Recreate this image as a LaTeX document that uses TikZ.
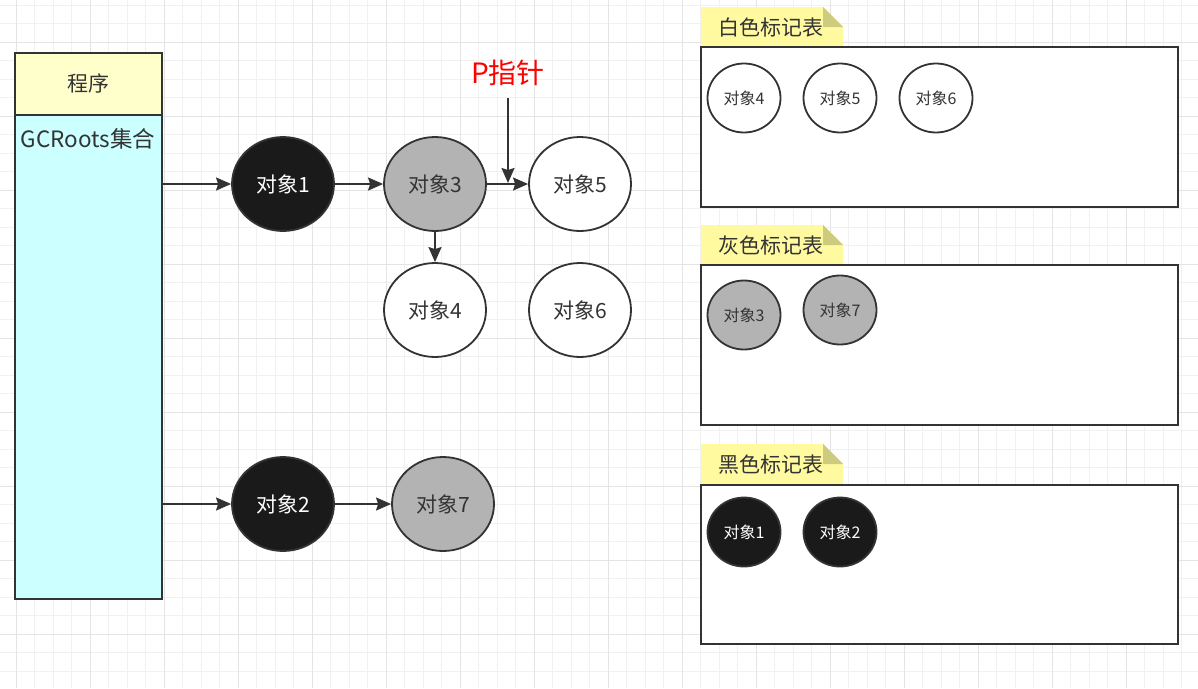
\documentclass[tikz,border=0pt]{standalone}
\usepackage{fontspec}
\setmainfont{Noto Sans CJK SC}
\usetikzlibrary{arrows.meta,shapes.geometric}
\definecolor{lineC}{HTML}{333333}
\definecolor{blackF}{HTML}{1A1A1A}
\definecolor{grayF}{HTML}{B3B3B3}
\definecolor{hdrF}{HTML}{FFFFCC}
\definecolor{bodyF}{HTML}{CCFFFF}
\definecolor{tabF}{HTML}{FFFAA0}
\definecolor{foldF}{HTML}{CDCB7E}
\definecolor{gridMinor}{HTML}{F1F1F1}
\definecolor{gridMajor}{HTML}{E4E4E4}
\definecolor{txtC}{HTML}{333333}
\tikzset{
  obj/.style={ellipse, draw=lineC, line width=1.8pt, minimum width=102pt, minimum height=94pt, inner sep=0pt, font=\fontsize{21}{25}\selectfont, text=txtC},
  sobj/.style={ellipse, draw=lineC, line width=1.8pt, minimum width=73pt, minimum height=69pt, inner sep=0pt, font=\fontsize{16}{20}\selectfont, text=txtC},
  blk/.style={fill=blackF, text=white},
  gry/.style={fill=grayF},
  wht/.style={fill=white},
  conn/.style={draw=lineC, line width=1.9pt, -{Stealth[length=15pt,width=13pt,inset=2pt]}},
  panel/.style={draw=lineC, line width=1.8pt, fill=white},
  tablabel/.style={font=\fontsize{21}{25}\selectfont, text=txtC},
}
\begin{document}
\begin{tikzpicture}[x=1pt,y=-1pt]
\useasboundingbox (0,0) rectangle (1198,688);
\fill[white] (0,0) rectangle (1198,688);
% grid
\foreach \k in {-1,...,64} {\pgfmathsetmacro\gx{16+18.5*\k}\draw[gridMinor,line width=1pt] (\gx,0) -- (\gx,688);}
\foreach \k in {-2,...,35} {\pgfmathsetmacro\gy{42+18.5*\k}\draw[gridMinor,line width=1pt] (0,\gy) -- (1198,\gy);}
\foreach \k in {0,...,16} {\pgfmathsetmacro\gx{16+74*\k}\draw[gridMajor,line width=1pt] (\gx,0) -- (\gx,688);}
\foreach \k in {0,...,8} {\pgfmathsetmacro\gy{42+74*\k}\draw[gridMajor,line width=1pt] (0,\gy) -- (1198,\gy);}

% left box
\node[draw=lineC, line width=1.8pt, fill=bodyF, minimum width=147pt, minimum height=484pt, inner sep=0pt, anchor=north west] (body) at (14,114) {};
\node[draw=lineC, line width=1.8pt, fill=hdrF, minimum width=147pt, minimum height=62pt, inner sep=0pt, anchor=north west, font=\fontsize{21}{25}\selectfont, text=txtC] (hdr) at (14,52) {程序};
\node[font=\fontsize{22.5}{26}\selectfont, text=txtC] (gcr) at (88,139) {GCRoots集合};

% objects
\node[obj,blk] (o1) at (283,184) {对象1};
\node[obj,gry] (o3) at (435,184) {对象3};
\node[obj,wht] (o5) at (580,184) {对象5};
\node[obj,wht] (o4) at (435,310) {对象4};
\node[obj,wht] (o6) at (580,310) {对象6};
\node[obj,blk] (o2) at (283,504) {对象2};
\node[obj,gry] (o7) at (443,504) {对象7};

\draw[conn] (body.east |- o1.west) -- (o1.west);
\draw[conn] (o1) -- (o3);
\draw[conn] (o3) -- (o5);
\draw[conn] (o3) -- (o4);
\draw[conn] (body.east |- o2.west) -- (o2.west);
\draw[conn] (o2) -- (o7);

% P pointer
\node[font=\fontsize{28}{32}\selectfont, text=red] (p) at (508,73) {P指针};
\coordinate (ps) at (508,98);
\coordinate (pe) at (508,183);
\draw[conn] (ps) -- (pe);

% panels
\foreach \ty/\py/\lab/\nm in {7/47/白色标记表/tw, 225/265/灰色标记表/tg, 444/485/黑色标记表/tb} {
  \fill[tabF] (701,\py) -- (701,\ty) -- (823,\ty) -- (843,\ty+20) -- (843,\py) -- cycle;
  \fill[foldF] (823,\ty) -- (823,\ty+20) -- (843,\ty+20) -- cycle;
  \node[tablabel] (\nm) at (771,{(\ty+\py)/2}) {\lab};
}
\draw[panel] (701,47) rectangle (1178,207);
\draw[panel] (701,265) rectangle (1178,425);
\draw[panel] (701,485) rectangle (1178,644);

\node[sobj,wht] (w4) at (744,98) {对象4};
\node[sobj,wht] (w5) at (840,98) {对象5};
\node[sobj,wht] (w6) at (936,98) {对象6};
\node[sobj,gry] (g3) at (744,315) {对象3};
\node[sobj,gry] (g7) at (840,310) {对象7};
\node[sobj,blk] (b1) at (744,532) {对象1};
\node[sobj,blk] (b2) at (840,532) {对象2};
\end{tikzpicture}
\end{document}
